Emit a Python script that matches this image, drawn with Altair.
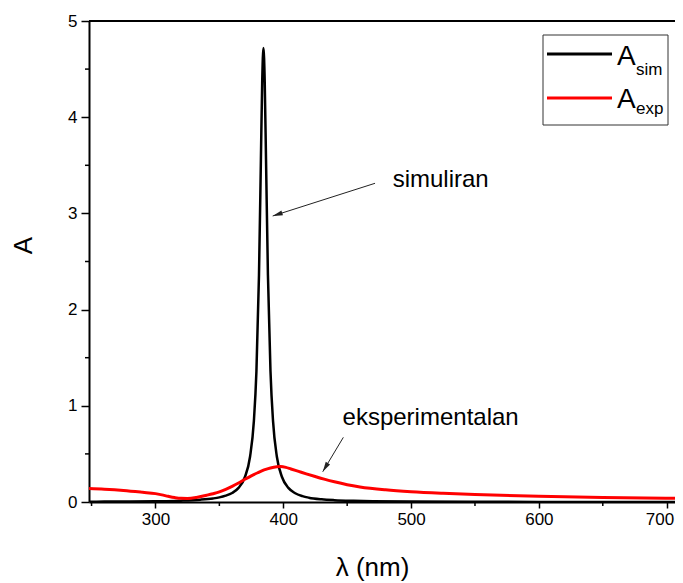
import altair as alt
import pandas as pd

# ---------------- data ----------------
sim_wavelength = [248, 260, 280, 300, 320, 335, 345, 350, 355, 360, 365, 370, 374, 377,
                  379, 381, 382.5, 383.5, 384.5, 385.5, 386.5, 388, 390, 392, 395, 399,
                  404, 409, 415, 420, 430, 440, 455, 470, 500, 550, 600, 650, 715]
sim_absorbance = [0.003, 0.004, 0.005, 0.008, 0.014, 0.024, 0.037, 0.048, 0.066, 0.094,
                  0.147, 0.26, 0.47, 0.84, 1.36, 2.36, 3.56, 4.36, 4.72, 4.36, 3.56, 2.36,
                  1.36, 0.84, 0.47, 0.26, 0.147, 0.094, 0.061, 0.045, 0.028, 0.019, 0.012,
                  0.008, 0.004, 0.002, 0.001, 0.001, 0.0005]

exp_wavelength = [248, 260, 275, 290, 300, 305, 310, 315, 320, 325, 332, 340, 345, 350,
                  355, 360, 365, 370, 375, 380, 385, 390, 395, 398, 402, 406, 412, 418,
                  425, 432, 440, 450, 460, 480, 500, 525, 550, 600, 650, 700, 715]
exp_absorbance = [0.14, 0.133, 0.12, 0.101, 0.087, 0.074, 0.059, 0.046, 0.038, 0.037,
                  0.047, 0.07, 0.086, 0.105, 0.132, 0.163, 0.198, 0.236, 0.272, 0.304,
                  0.333, 0.354, 0.366, 0.368, 0.36, 0.343, 0.318, 0.293, 0.265, 0.238,
                  0.21, 0.18, 0.157, 0.127, 0.107, 0.09, 0.077, 0.059, 0.047, 0.039, 0.037]

series_names = ["A_sim", "A_exp"]
series_colors = ["#000000", "#ff0000"]

x_major_ticks = [300, 400, 500, 600, 700]
x_minor_ticks = [250, 350, 450, 550, 650]
y_major_ticks = [0, 1, 2, 3, 4, 5]
y_minor_ticks = [0.5, 1.5, 2.5, 3.5, 4.5]

annot_text = ["simuliran", "eksperimentalan"]
annot_text_x = [485.6, 446.4]
annot_text_y = [3.277, 0.80]
arrow_x1 = [471.8, 447.0]
arrow_y1 = [3.313, 0.672]
arrow_x2 = [391.7, 430.9]
arrow_y2 = [2.973, 0.315]
arrow_angle = [252.3, 210.9]

X_DOMAIN = [248, 706.5]
Y_DOMAIN = [0, 5]

# ---------------- layout ----------------
W, H = 586, 481
FONT = "Liberation Sans"

xs = alt.Scale(domain=X_DOMAIN, nice=False, zero=False)
ys = alt.Scale(domain=Y_DOMAIN, nice=False, zero=False)

sim_df = pd.DataFrame({"wavelength": sim_wavelength, "A": sim_absorbance})
exp_df = pd.DataFrame({"wavelength": exp_wavelength, "A": exp_absorbance})
ann_df = pd.DataFrame({"text": annot_text, "tx": annot_text_x, "ty": annot_text_y,
                       "x1": arrow_x1, "y1": arrow_y1, "x2": arrow_x2, "y2": arrow_y2,
                       "ang": arrow_angle})
xminor_df = pd.DataFrame({"v": x_minor_ticks})
yminor_df = pd.DataFrame({"v": y_minor_ticks})
one = pd.DataFrame({"k": [0]})

x_axis = alt.Axis(
    values=x_major_ticks, format="d", tickSize=6,
    labelFlush=12, labelFlushOffset=7,
    title="λ (nm)", titleX=283, titleY=73, titleAlign="center", titleBaseline="alphabetic",
    labelPadding=3,
)
y_axis = alt.Axis(
    values=y_major_ticks, format="d", tickSize=8,
    title="A", titleX=-66, titleY=224, titleAlign="center", titleBaseline="middle",
    titleAngle=270, labelPadding=4,
)

sim_line = alt.Chart(sim_df).mark_line(
    color=series_colors[0], strokeWidth=2.5, interpolate="monotone", clip=True
).encode(
    x=alt.X("wavelength:Q", scale=xs, axis=x_axis),
    y=alt.Y("A:Q", scale=ys, axis=y_axis),
)

exp_line = alt.Chart(exp_df).mark_line(
    color=series_colors[1], strokeWidth=3, interpolate="monotone", clip=True
).encode(
    x=alt.X("wavelength:Q", scale=xs, axis=x_axis),
    y=alt.Y("A:Q", scale=ys, axis=y_axis),
)

x_minor = alt.Chart(xminor_df).mark_rule(color="black", strokeWidth=1.5).encode(
    x=alt.X("v:Q", scale=xs, axis=x_axis), y=alt.value(H), y2=alt.value(H + 4)
)
y_minor = alt.Chart(yminor_df).mark_rule(color="black", strokeWidth=1.5).encode(
    y=alt.Y("v:Q", scale=ys, axis=y_axis), x=alt.value(-4), x2=alt.value(0)
)

top_border = alt.Chart(one).mark_rule(color="black", strokeWidth=2).encode(
    x=alt.value(0), x2=alt.value(W), y=alt.value(0)
)

ann_text = alt.Chart(ann_df).mark_text(
    align="left", baseline="alphabetic", fontSize=24, font=FONT, color="black"
).encode(
    x=alt.X("tx:Q", scale=xs, axis=x_axis),
    y=alt.Y("ty:Q", scale=ys, axis=y_axis),
    text="text:N",
)

ann_arrow = alt.Chart(ann_df).mark_rule(color="#222222", strokeWidth=1).encode(
    x=alt.X("x1:Q", scale=xs, axis=x_axis),
    y=alt.Y("y1:Q", scale=ys, axis=y_axis),
    x2="x2:Q",
    y2="y2:Q",
)

ann_head = alt.Chart(ann_df).mark_point(
    shape="M0,0L0.25,1L-0.25,1Z", filled=True, size=400, color="#222222",
    opacity=1, strokeWidth=0
).encode(
    x=alt.X("x2:Q", scale=xs, axis=x_axis),
    y=alt.Y("y2:Q", scale=ys, axis=y_axis),
    angle=alt.Angle("ang:Q", scale=None),
)

# ---------------- custom legend (main letter + subscript) ----------------
legend_layers = [
    alt.Chart(one).mark_rect(fill="white", stroke="#333333", strokeWidth=1).encode(
        x=alt.value(454), x2=alt.value(579), y=alt.value(14), y2=alt.value(104)
    )
]
line_y = [33, 77]
main_base = [44, 87]
sub_base = [54, 93]
for i, name in enumerate(series_names):
    main, sub = name.split("_")
    legend_layers.append(
        alt.Chart(one).mark_rule(color=series_colors[i], strokeWidth=3).encode(
            x=alt.value(458), x2=alt.value(523), y=alt.value(line_y[i])
        )
    )
    legend_layers.append(
        alt.Chart(one).mark_text(
            text=main, align="left", baseline="alphabetic", fontSize=28, font=FONT,
            color="black"
        ).encode(x=alt.value(528), y=alt.value(main_base[i]))
    )
    legend_layers.append(
        alt.Chart(one).mark_text(
            text=sub, align="left", baseline="alphabetic", fontSize=17, font=FONT,
            color="black"
        ).encode(x=alt.value(547), y=alt.value(sub_base[i]))
    )

chart = alt.layer(
    sim_line, exp_line, x_minor, y_minor, top_border, ann_arrow, ann_head, ann_text,
    *legend_layers
).properties(
    width=W, height=H,
    padding={"left": 81, "top": 13, "right": 0, "bottom": 81},
    autosize=alt.AutoSizeParams(type="none"),
).configure(
    font=FONT, background="white"
).configure_view(
    stroke=None
).configure_axis(
    grid=False,
    domainColor="black", domainWidth=2,
    tickColor="black", tickWidth=1.5,
    labelColor="black", labelFontSize=17, labelFont=FONT,
    titleColor="black", titleFontSize=26, titleFontWeight="normal", titleFont=FONT,
)

chart.save("out.html", embed_options={"renderer": "svg", "actions": False})
